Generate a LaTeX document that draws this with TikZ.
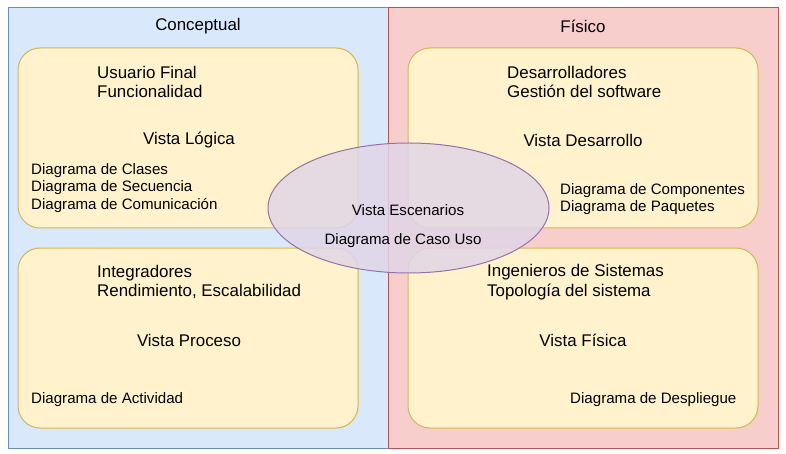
\documentclass[tikz,border=0pt]{standalone}
\usepackage{fontspec}
\setmainfont{Liberation Sans}
\usepackage{xcolor}
\usepackage{tikz}
\usetikzlibrary{shapes.geometric}

\definecolor{concfill}{HTML}{DAE8FC}
\definecolor{concline}{HTML}{6C8EBF}
\definecolor{fisfill}{HTML}{F8CECC}
\definecolor{fisline}{HTML}{B85450}
\definecolor{vistafill}{HTML}{FFF2CC}
\definecolor{vistaline}{HTML}{D6B656}
\definecolor{escfill}{HTML}{E1D5E7}
\definecolor{escline}{HTML}{9673A6}

\begin{document}
\begin{tikzpicture}[x=1pt, y=-1pt]
                \tikzstyle{panel}  = [rectangle, draw, line width=1pt, minimum height=440pt, inner sep=0pt]
                \tikzstyle{vista}  = [rectangle, rounded corners=22pt, draw=vistaline, fill=vistafill, line width=1pt, minimum width=340pt, minimum height=180pt, inner sep=0pt]
                \tikzstyle{big}    = [font=\fontsize{16.9}{19.8}\selectfont, inner sep=0pt]
                \tikzstyle{small}  = [font=\fontsize{15.1}{17.8}\selectfont, inner sep=0pt]
                \useasboundingbox (0,0) rectangle (786,454);
                %%Panels
                \node [panel, draw=concline, fill=concfill, minimum width=380pt](conc) at (198, 228) {};
                \node [panel, draw=fisline, fill=fisfill, minimum width=390pt](fis) at (583, 228) {};
                \node [big](conctitle) at (198, 26) {Conceptual};
                \node [big](fistitle) at (583, 26) {Físico};
                %%Views
                \node [vista](logica) at (188, 138) {};
                \node [vista](proceso) at (188, 338) {};
                \node [vista, minimum width=350pt](desarrollo) at (583, 138) {};
                \node [vista, minimum width=350pt](fisica) at (583, 338) {};
                %%Logica
                \node [big, anchor=west, align=left](logstake) at (97, 82) {Usuario Final\\Funcionalidad};
                \node [big](logname) at (189, 140) {Vista Lógica};
                \node [small, anchor=west, align=left](logdiag) at (31, 188) {Diagrama de Clases\\Diagrama de Secuencia\\Diagrama de Comunicación};
                %%Proceso
                \node [big, anchor=west, align=left](prostake) at (97, 282) {Integradores\\Rendimiento, Escalabilidad};
                \node [big](proname) at (189, 340) {Vista Proceso};
                \node [small, anchor=west](prodiag) at (31, 400) {Diagrama de Actividad};
                %%Desarrollo
                \node [big, anchor=west, align=left](desstake) at (507, 82) {Desarrolladores\\Gestión del software};
                \node [big](desname) at (583, 140) {Vista Desarrollo};
                \node [small, anchor=west, align=left](desdiag) at (560, 199) {Diagrama de Componentes\\Diagrama de Paquetes};
                %%Fisica
                \node [big, anchor=west, align=left](fisstake) at (487, 282) {Ingenieros de Sistemas\\Topología del sistema};
                \node [big](fisname) at (583, 340) {Vista Física};
                \node [small, anchor=west](fisdiag) at (570, 400) {Diagrama de Despliegue};
                %%Escenarios
                \node [ellipse, draw=escline, fill=escfill, fill opacity=0.85, line width=1pt, minimum width=281pt, minimum height=130pt](escenarios) at (408.5, 208) {};
                \node [small](escname) at (408, 210) {Vista Escenarios};
                \node [small](escdiag) at (403, 241) {Diagrama de Caso Uso};
\end{tikzpicture}
\end{document}
